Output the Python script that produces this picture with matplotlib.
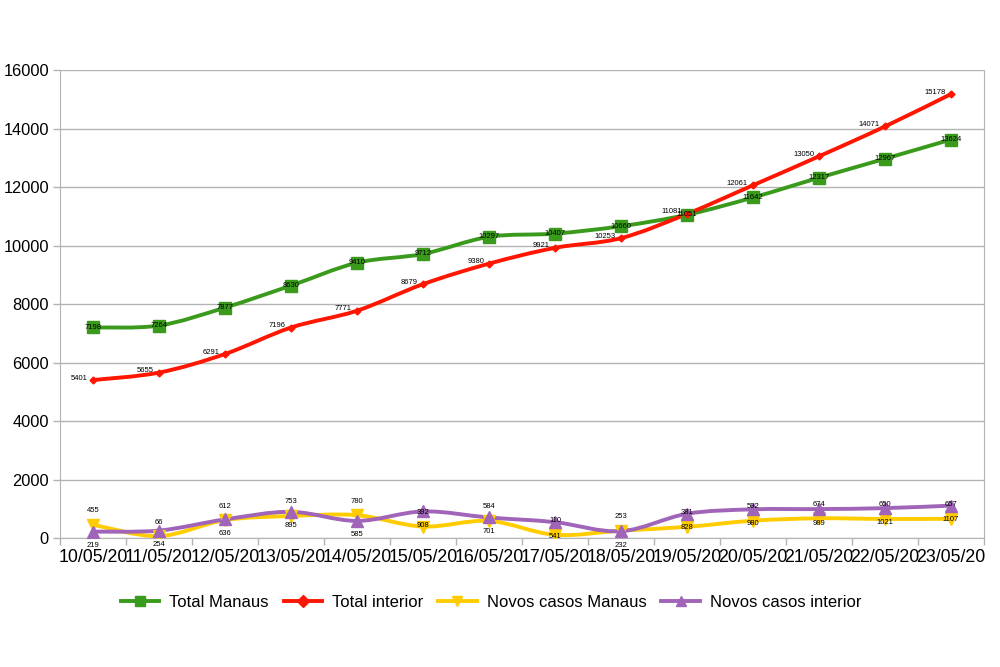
import numpy as np
import matplotlib.pyplot as plt
from matplotlib.path import Path
from matplotlib.patches import PathPatch
from matplotlib.lines import Line2D

plt.rcParams['font.family'] = ['Liberation Sans', 'DejaVu Sans']

# data
dates = ["10/05/20", "11/05/20", "12/05/20", "13/05/20", "14/05/20", "15/05/20", "16/05/20",
         "17/05/20", "18/05/20", "19/05/20", "20/05/20", "21/05/20", "22/05/20", "23/05/20"]
total_manaus = [7198, 7264, 7877, 8630, 9410, 9712, 10297, 10407, 10660, 11051, 11642, 12317, 12967, 13624]
total_interior = [5401, 5655, 6291, 7196, 7771, 8679, 9380, 9921, 10253, 11081, 12061, 13050, 14071, 15178]
novos_manaus = [455, 66, 612, 753, 780, 392, 584, 110, 253, 381, 592, 674, 650, 657]
novos_interior = [219, 254, 636, 895, 585, 908, 701, 541, 232, 828, 980, 989, 1021, 1107]

GREEN = "#3a9a1c"
RED = "#ff1500"
YELLOW = "#ffcc00"
PURPLE = "#a064b8"


def smooth_path(x, y):
    # catmull-rom style bezier through the points
    x = np.asarray(x, float)
    y = np.asarray(y, float)
    n = len(x)
    verts = [(x[0], y[0])]
    codes = [Path.MOVETO]
    for i in range(n - 1):
        i0 = max(i - 1, 0)
        i3 = min(i + 2, n - 1)
        c1 = (x[i] + (x[i + 1] - x[i0]) / 6, y[i] + (y[i + 1] - y[i0]) / 6)
        c2 = (x[i + 1] - (x[i3] - x[i]) / 6, y[i + 1] - (y[i3] - y[i]) / 6)
        verts += [c1, c2, (x[i + 1], y[i + 1])]
        codes += [Path.CURVE4] * 3
    return Path(verts, codes)


fig = plt.figure(figsize=(10, 6.67), dpi=100)
ax = fig.add_axes([0.06, 0.1934, 0.924, 0.7016])

xs = np.arange(len(dates))

series = [
    (total_manaus, GREEN, "s", 9, "Total Manaus"),
    (total_interior, RED, "D", 3.5, "Total interior"),
    (novos_manaus, YELLOW, "v", 9, "Novos casos Manaus"),
    (novos_interior, PURPLE, "^", 9, "Novos casos interior"),
]

handles = []
for vals, col, mk, ms, name in series:
    ax.add_patch(PathPatch(smooth_path(xs, vals), fill=False, edgecolor=col, lw=2.8,
                           capstyle='round', joinstyle='round', zorder=3))
    ax.plot(xs, vals, linestyle='none', marker=mk, ms=ms, color=col, zorder=4)
    handles.append(Line2D([], [], color=col, lw=2.8, marker=mk, ms=min(ms, 7) if mk != "D" else 6))

# data labels
for i, v in enumerate(total_manaus):
    ax.annotate(str(v), (xs[i], v), ha='center', va='center', fontsize=5.5, zorder=5)
for i, v in enumerate(total_interior):
    ax.annotate(str(v), (xs[i], v), xytext=(-5, 2), textcoords='offset pixels',
                ha='right', va='center', fontsize=5.5, zorder=5)
for i, v in enumerate(novos_manaus):
    ax.annotate(str(v), (xs[i], v), xytext=(0, 14), textcoords='offset pixels',
                ha='center', va='center', fontsize=5.5, zorder=5)
for i, v in enumerate(novos_interior):
    ax.annotate(str(v), (xs[i], v), xytext=(0, -14), textcoords='offset pixels',
                ha='center', va='center', fontsize=5.5, zorder=5)

ax.set_xlim(-0.5, len(dates) - 0.5)
ax.set_ylim(0, 16000)
ax.set_yticks(np.arange(0, 16001, 2000))
ax.set_xticks(xs)
ax.set_xticklabels(dates, fontsize=12.8)
ax.set_xticks(np.arange(-0.5, len(dates), 1), minor=True)
ax.tick_params(axis='x', which='major', length=0, pad=8)
ax.tick_params(axis='x', which='minor', length=5, color='#b3b3b3', width=1)
ax.tick_params(axis='y', length=5, color='#b3b3b3', width=1, labelsize=11.8, pad=3)

ax.grid(axis='y', color='#b3b3b3', lw=1)
ax.set_axisbelow(True)
for s in ['left', 'bottom', 'right']:
    ax.spines[s].set_color('#b3b3b3')
ax.spines['top'].set_visible(False)

fig.legend(handles, [s[4] for s in series], loc='center', bbox_to_anchor=(0.491, 0.097),
           ncol=4, frameon=False, fontsize=12, handlelength=2.3, handletextpad=0.6,
           columnspacing=0.9)

fig.savefig("out.png", dpi=100)
